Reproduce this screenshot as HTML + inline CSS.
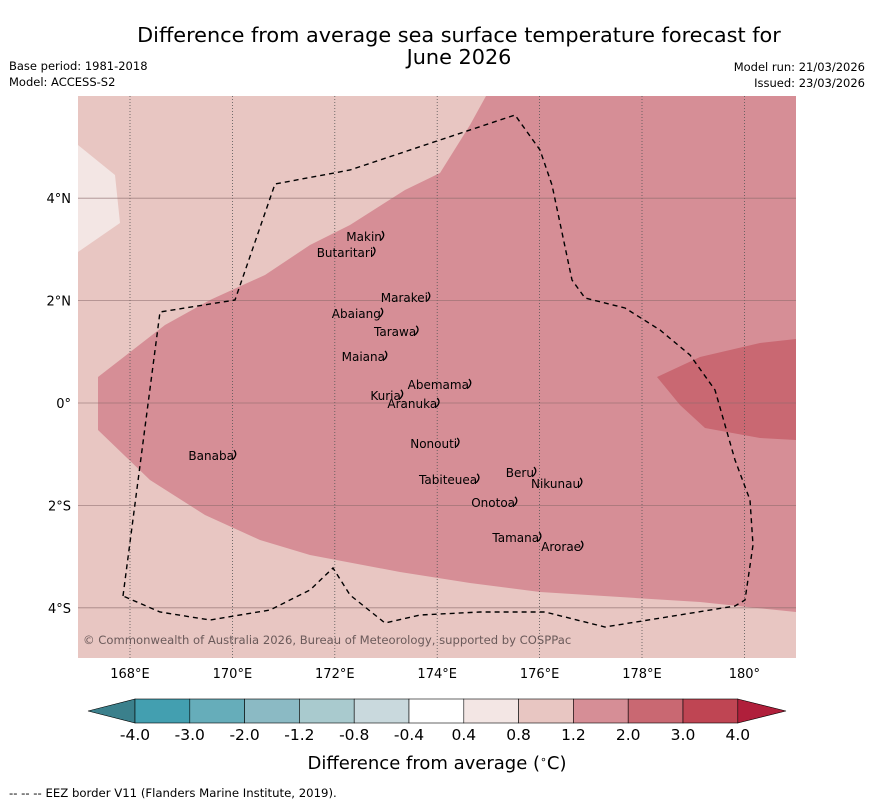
<!DOCTYPE html>
<html><head><meta charset="utf-8"><style>
body{margin:0;background:#fff;font-family:"Liberation Sans","DejaVu Sans",sans-serif}
svg text{font-family:"DejaVu Sans","Liberation Sans",sans-serif}
</style></head><body>
<svg id="s" width="873" height="804" viewBox="0 0 873 804">
<text x="459" y="42" font-size="20.8" text-anchor="middle">Difference from average sea surface temperature forecast for</text>
<text x="459" y="64" font-size="20.8" text-anchor="middle">June 2026</text>
<text x="9" y="70" font-size="11.5">Base period: 1981-2018</text>
<text x="9" y="86" font-size="11.5">Model: ACCESS-S2</text>
<text x="865" y="71" font-size="11.5" text-anchor="end">Model run: 21/03/2026</text>
<text x="865" y="87" font-size="11.5" text-anchor="end">Issued: 23/03/2026</text>
<defs><clipPath id="mc"><rect x="78" y="96" width="718" height="562"/></clipPath></defs>
<g clip-path="url(#mc)">
<rect x="78" y="96" width="718" height="562" fill="#e8c6c2"/>
<polygon fill="#f3e6e4" points="78,145 115,175 120,223 78,252"/>
<polygon fill="#d68e96" points="486,96 470,125 440,173 405,190 350,225 310,245 265,275 210,300 165,325 98,377 98,430 150,480 205,515 260,540 310,555 400,572 470,583 540,592 620,597 700,602 796,612 796,96"/>
<polygon fill="#c96872" points="657,377 700,357 760,343 796,339 796,440 760,438 705,428 680,405"/>
<g id="grid"></g>
<polyline fill="none" stroke="#000" stroke-width="1.4" stroke-dasharray="5,4" points="123,596 160,312 235,300 275,184 350,170 440,140 515,115 540,150 552,185 572,280 585,298 625,308 660,330 690,355 715,390 735,460 750,500 753,545 745,600 735,606 605,627 545,612 480,612 420,615 385,623 350,595 333,568 310,590 270,610 210,620 160,612 123,596"/>
<g id="isl"></g>
<text x="83" y="644" font-size="11.6" fill="#6b5a5a">© Commonwealth of Australia 2026, Bureau of Meteorology, supported by COSPPac</text>
</g>
<g id="axes"></g>
<g id="cbar"></g>
<text x="437" y="769" font-size="18" text-anchor="middle">Difference from average (<tspan font-size="11" dy="-6">∘</tspan><tspan dy="6">C)</tspan></text>
<text x="9" y="797" font-size="11.7">--  --  -- EEZ border V11 (Flanders Marine Institute, 2019).</text>
</svg>
<script>
const lonTicks=[168,170,172,174,176,178,180];
const lonLabels=["168°E","170°E","172°E","174°E","176°E","178°E","180°"];
const latTicks=[4,2,0,-2,-4];
const latLabels=["4°N","2°N","0°","2°S","4°S"];
const levelLabels=["-4.0","-3.0","-2.0","-1.2","-0.8","-0.4","0.4","0.8","1.2","2.0","3.0","4.0"];
const levelColors=["#439fb0","#66adba","#8bbac4","#a9cace","#c9d9dd","#ffffff","#f3e6e4","#e8c6c2","#d68e96","#c96872","#bf4553"];
const islandNames=["Makin","Butaritari","Marakei","Abaiang","Tarawa","Maiana","Abemama","Kuria","Aranuka","Nonouti","Banaba","Beru","Nikunau","Tabiteuea","Onotoa","Tamana","Arorae"];
const islandLon=[172.92,172.75,173.82,172.90,173.59,172.98,174.62,173.29,174.0,174.39,170.03,175.89,176.79,174.78,175.52,175.99,176.81];
const islandLat=[3.24,2.93,2.05,1.74,1.39,0.90,0.35,0.14,-0.02,-0.80,-1.04,-1.37,-1.58,-1.50,-1.95,-2.64,-2.81];
const NS="http://www.w3.org/2000/svg";
const X=l=>130+(l-168)*51.2, Y=l=>403-l*51.2;
function mk(t,a,p){const e=document.createElementNS(NS,t);for(const k in a)e.setAttribute(k,a[k]);p.appendChild(e);return e;}
const g=document.getElementById('grid'),ax=document.getElementById('axes'),cb=document.getElementById('cbar'),il=document.getElementById('isl');
lonTicks.forEach((l,i)=>{
 const ln=mk('line',{x1:X(l),x2:X(l),y1:96,y2:658,stroke:'#555','stroke-width':0.8,'stroke-dasharray':'1,2'},g);
 
 
 const t=mk('text',{x:X(l),y:678,'font-size':13,'text-anchor':'middle'},ax);t.textContent=lonLabels[i];
 
 
});
latTicks.forEach((l,i)=>{
 const ln=mk('line',{x1:78,x2:796,y1:Y(l),y2:Y(l),stroke:'#8a6a6a','stroke-width':0.8,opacity:0.7},g);
 
 
 const t=mk('text',{x:71,y:Y(l)+5,'font-size':13,'text-anchor':'end'},ax);t.textContent=latLabels[i];
 
 
});
islandNames.forEach((n,i)=>{
 const x=X(islandLon[i]),y=Y(islandLat[i]);
 const p=mk('path',{d:`M${x} ${y-6} q4 4 -1 9`,fill:'none',stroke:'#000','stroke-width':1.3},il);
 
 
 const t=mk('text',{x:x,y:y+4,'font-size':12,'text-anchor':'end'},il);t.textContent=n;
 
 
});
const x0=135,w=54.8,cy0=699,cy1=723;
const lt=mk('polygon',{points:`88,711 ${x0},${cy0} ${x0},${cy1}`,fill:'#3b808c',stroke:'#000','stroke-width':0.6},cb);


levelColors.forEach((c,i)=>{
 const r=mk('rect',{x:x0+i*w,y:cy0,width:w,height:cy1-cy0,fill:c,stroke:'#000','stroke-width':0.6},cb);
 
 
});
const xe=x0+levelColors.length*w;
const rt=mk('polygon',{points:`${xe},${cy0} 786,711 ${xe},${cy1}`,fill:'#b01f3b',stroke:'#000','stroke-width':0.6},cb);


levelLabels.forEach((s,i)=>{
 const t=mk('text',{x:x0+i*w,y:740,'font-size':15.5,'text-anchor':'middle'},cb);t.textContent=s;
 
 
});
</script>
</body></html>
